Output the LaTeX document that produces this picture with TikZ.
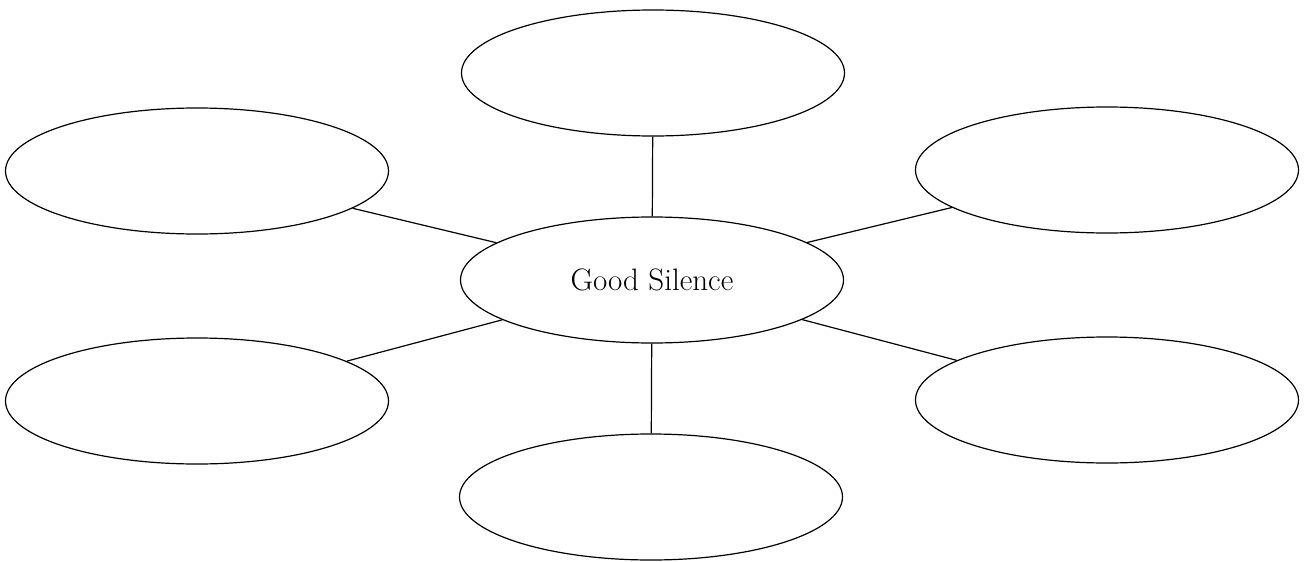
\documentclass[tikz,border=0pt]{standalone}
\usetikzlibrary{shapes.geometric}
\begin{document}
\begin{tikzpicture}[x=1pt,y=-1pt,
  bubble/.style={draw=black, ellipse, line width=1.2pt, minimum width=383pt, minimum height=126pt, inner sep=0pt},
  link/.style={draw=black, line width=1.2pt}]
\useasboundingbox[fill=white] (0,0) rectangle (1310,562);
\node[bubble] (c) at (652,280) {\fontsize{31}{36}\selectfont Good Silence};
\node[bubble] (t) at (653,73) {};
\node[bubble] (b) at (651,497) {};
\node[bubble] (ul) at (197,171) {};
\node[bubble] (ll) at (197,401) {};
\node[bubble] (ur) at (1107,170) {};
\node[bubble] (lr) at (1107,400) {};
\path[link] (c) -- (t);
\path[link] (c) -- (b);
\path[link] (c) -- (ul);
\path[link] (c) -- (ll);
\path[link] (c) -- (ur);
\path[link] (c) -- (lr);
\end{tikzpicture}
\end{document}
